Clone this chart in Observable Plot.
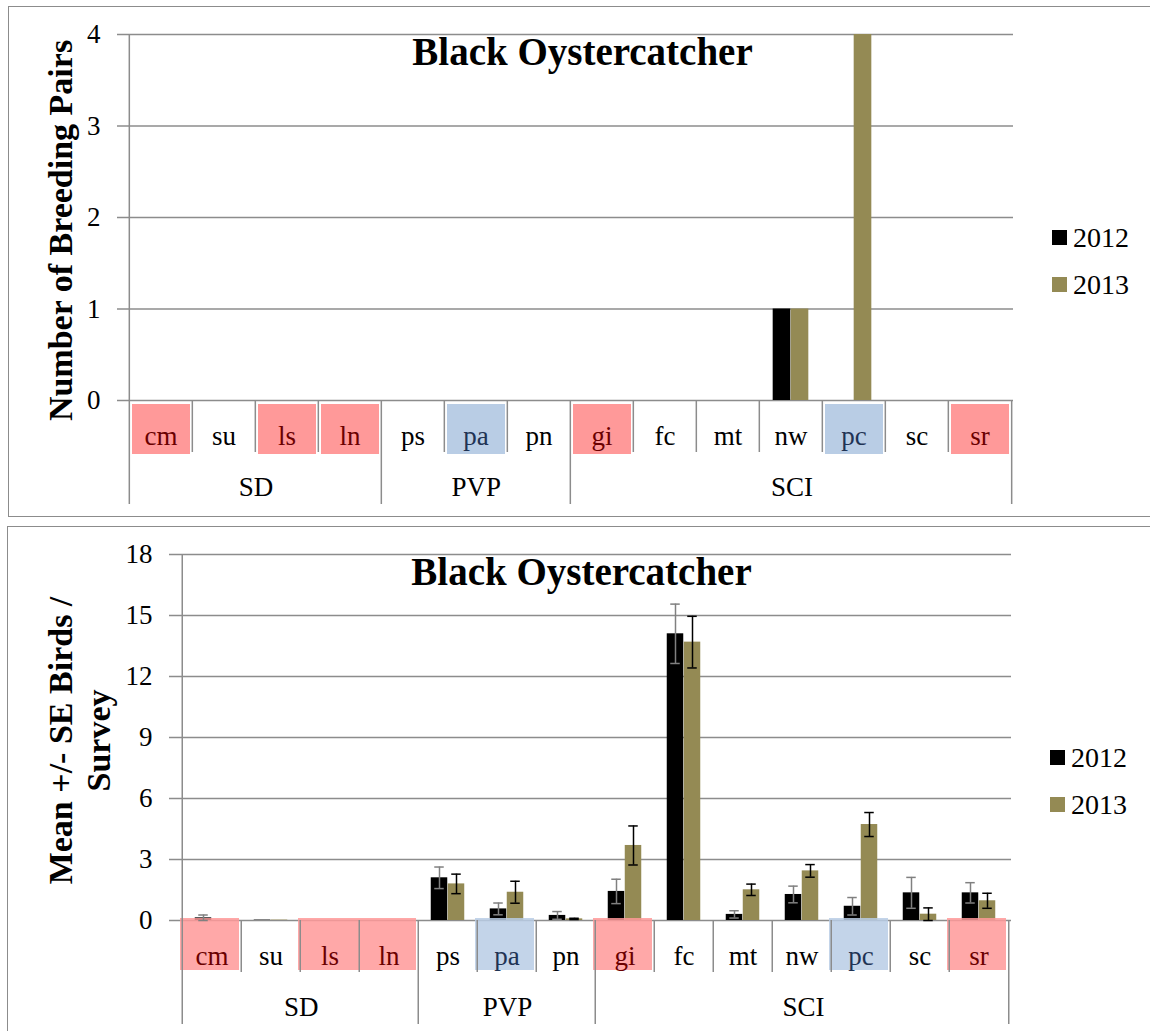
<!DOCTYPE html>
<html>
<head>
<meta charset="utf-8">
<script src="https://cdn.jsdelivr.net/npm/d3@7"></script>
<script src="https://cdn.jsdelivr.net/npm/@observablehq/plot@0.6"></script>
<style>
  body { margin: 0; background: #fff; font-family: "Liberation Serif", "Times New Roman", serif; }
  #page { position: relative; width: 1150px; height: 1031px; overflow: hidden; background: #fff; }
  .frame { position: absolute; border: 1.5px solid #8c8c8c; box-sizing: border-box; }
  .panel { position: absolute; left: 0; }
  .sw { position: absolute; width: 15px; height: 15px; }
  .lt { position: absolute; font-family: "Liberation Serif", "Times New Roman", serif; font-size: 28px; line-height: 30px; color: #000; }
</style>
</head>
<body>
<div id="page">
  <div class="frame" style="left:8px;top:6px;width:1150px;height:511px;"></div>
  <div class="frame" style="left:7px;top:526px;width:1150px;height:520px;"></div>
</div>
<script>
// ---------- data ----------
const sites = ["cm", "su", "ls", "ln", "ps", "pa", "pn", "gi", "fc", "mt", "nw", "pc", "sc", "sr"];
const siteRegion = ["SD", "SD", "SD", "SD", "PVP", "PVP", "PVP", "SCI", "SCI", "SCI", "SCI", "SCI", "SCI", "SCI"];
const regions = ["SD", "PVP", "SCI"];
const pinkSites = ["cm", "ls", "ln", "gi", "sr"];
const blueSites = ["pa", "pc"];
const years = ["2012", "2013"];

const pairs2012 = [0, 0, 0, 0, 0, 0, 0, 0, 0, 0, 1, 0, 0, 0];
const pairs2013 = [0, 0, 0, 0, 0, 0, 0, 0, 0, 0, 1, 4, 0, 0];

const mean2012 = [0.13, 0.02, 0, 0, 2.10, 0.57, 0.25, 1.43, 14.10, 0.30, 1.28, 0.70, 1.36, 1.36];
const se2012   = [0.14, 0, 0, 0, 0.53, 0.29, 0.19, 0.60, 1.46, 0.18, 0.41, 0.43, 0.76, 0.50];
const mean2013 = [0, 0.02, 0, 0, 1.80, 1.39, 0.08, 3.69, 13.69, 1.51, 2.44, 4.72, 0.31, 0.97];
const se2013   = [0, 0, 0, 0, 0.48, 0.54, 0.03, 0.96, 1.27, 0.28, 0.31, 0.59, 0.31, 0.37];

const ticksPairs = [0, 1, 2, 3, 4];
const ticksBirds = [0, 3, 6, 9, 12, 15, 18];

const title = "Black Oystercatcher";
const labelPairs = "Number of Breeding Pairs";
const labelBirds = "Mean +/- SE Birds /\nSurvey";

// ---------- styles ----------
const W = 1150;
const GRAY = "#8c8c8c";
const C2012 = "#000000";
const C2013 = "#948A54";
const PINK = "#FF9999";
const BLUE = "#B9CDE5";
const PINK_TEXT = "#6b0000";
const BLUE_TEXT = "#1f3354";
const FONT = "'Liberation Serif', 'Times New Roman', serif";

function makePanel(cfg) {
  const {top, height, mt, mb, ml, mr, yDomain, yTicks, v12, v13, se12, se13,
         barW, capW, yLabel, titleDx, titleDy, labelDx, labelDy, boxInset, boxOpacity, titleSize} = cfg;
  const fh = height - mt - mb;
  const bw = (W - ml - mr) / sites.length;
  const side = (bw - 2 * barW) / 2;

  const rows = (vals, ses) => sites.map((s, i) => ({site: s, v: vals[i], se: ses ? ses[i] : 0}));
  const r12 = rows(v12, se12), r13 = rows(v13, se13);
  const err12 = r12.filter(d => d.se > 0), err13 = r13.filter(d => d.se > 0);

  const groupStarts = regions.map(g => sites[siteRegion.indexOf(g)]);
  const catDividers = sites.filter(s => !groupStarts.includes(s));
  const boxes = sites.filter(s => pinkSites.includes(s) || blueSites.includes(s))
    .map(s => ({site: s, kind: pinkSites.includes(s) ? "pink" : "blue"}));
  const labelColor = s => pinkSites.includes(s) ? PINK_TEXT : blueSites.includes(s) ? BLUE_TEXT : "#000";

  const marks = [
    Plot.ruleY(yTicks, {y: d => d, stroke: GRAY, strokeWidth: 1.5, insetLeft: -9}),
    Plot.barY(r12, {x: "site", y: "v", fill: C2012, insetLeft: side, insetRight: side + barW}),
    Plot.barY(r13, {x: "site", y: "v", fill: C2013, insetLeft: side + barW, insetRight: side}),
    Plot.barY(boxes, {x: "site", y1: 0, y2: 0, fill: d => d.kind === "pink" ? PINK : BLUE,
      fillOpacity: boxOpacity, insetLeft: boxInset[0], insetRight: boxInset[1],
      insetTop: boxInset[2], insetBottom: boxInset[3]}),
    Plot.ruleX([sites[0]], {x: d => d, dx: -bw / 2, stroke: GRAY, strokeWidth: 1.5, insetBottom: -104}),
    Plot.ruleX([sites[sites.length - 1]], {x: d => d, dx: bw / 2, stroke: GRAY, strokeWidth: 1.5, insetTop: fh, insetBottom: -104}),
    Plot.ruleX(catDividers, {x: d => d, dx: -bw / 2, stroke: GRAY, strokeWidth: 1.5, insetTop: fh, insetBottom: -52}),
    Plot.ruleX(groupStarts.slice(1), {x: d => d, dx: -bw / 2, stroke: GRAY, strokeWidth: 1.5, insetTop: fh, insetBottom: -104}),
    Plot.text(sites, {x: d => d, text: d => d, frameAnchor: "bottom", dy: 36, fill: labelColor,
      fontSize: 27, lineAnchor: "middle", fontFamily: FONT}),
    Plot.text([title], {text: d => d, frameAnchor: "top", dx: titleDx, dy: titleDy, fontWeight: "bold",
      fontSize: titleSize, lineAnchor: "middle", textAnchor: "middle", fontFamily: FONT}),
    Plot.text([yLabel], {text: d => d, frameAnchor: "left", dx: labelDx, dy: labelDy, rotate: -90,
      fontWeight: "bold", fontSize: 34, lineHeight: 1.1, lineAnchor: "middle", textAnchor: "middle", fontFamily: FONT})
  ];

  if (se12) {
    const off = barW / 2;
    const ci = bw / 2 - off - capW / 2;
    marks.push(
      Plot.ruleX(err12, {x: "site", y1: d => Math.max(0, d.v - d.se), y2: d => d.v + d.se, dx: -off, stroke: "#808080", strokeWidth: 1.5}),
      Plot.tickY(err12, {x: "site", y: d => d.v + d.se, insetLeft: ci, insetRight: bw - ci - capW, stroke: "#808080", strokeWidth: 1.5}),
      Plot.tickY(err12, {x: "site", y: d => Math.max(0, d.v - d.se), insetLeft: ci, insetRight: bw - ci - capW, stroke: "#808080", strokeWidth: 1.5}),
      Plot.ruleX(err13, {x: "site", y1: d => Math.max(0, d.v - d.se), y2: d => d.v + d.se, dx: off, stroke: "#000", strokeWidth: 1.5}),
      Plot.tickY(err13, {x: "site", y: d => d.v + d.se, insetLeft: ci + barW, insetRight: bw - ci - capW - barW, stroke: "#000", strokeWidth: 1.5}),
      Plot.tickY(err13, {x: "site", y: d => Math.max(0, d.v - d.se), insetLeft: ci + barW, insetRight: bw - ci - capW - barW, stroke: "#000", strokeWidth: 1.5})
    );
  }

  regions.forEach(g => {
    const first = siteRegion.indexOf(g);
    const count = siteRegion.filter(r => r === g).length;
    marks.push(Plot.text([g], {x: () => sites[first], text: d => d, frameAnchor: "bottom",
      dx: (count - 1) * bw / 2, dy: 87, fontSize: 27, lineAnchor: "middle", fontFamily: FONT}));
  });

  const svg = Plot.plot({
    width: W, height,
    marginTop: mt, marginBottom: mb, marginLeft: ml, marginRight: mr,
    style: {fontFamily: FONT, fontSize: "27px", color: "#000", background: "transparent", overflow: "visible"},
    x: {type: "band", domain: sites, padding: 0, axis: null},
    y: {domain: yDomain, ticks: yTicks, tickSize: 0, tickPadding: 26, label: null, tickFormat: d => String(d)},
    marks
  });
  svg.querySelectorAll("text").forEach(t => { if (!t.getAttribute("font-family")) t.setAttribute("font-family", FONT); });
  const wrap = document.createElement("div");
  wrap.className = "panel";
  wrap.style.top = top + "px";
  wrap.appendChild(svg);
  document.getElementById("page").appendChild(wrap);
}

makePanel({
  top: 0, height: 516, mt: 34, mb: 116, ml: 126, mr: 137,
  yDomain: [0, 4], yTicks: ticksPairs, v12: pairs2012, v13: pairs2013,
  barW: 18, capW: 10, yLabel: labelPairs,
  titleDx: 12.5, titleDy: 18, titleSize: 39, labelDx: -66, labelDy: 13,
  boxInset: [3, 2, 4, -54], boxOpacity: 1
});

makePanel({
  top: 516, height: 515, mt: 38, mb: 111, ml: 178, mr: 139,
  yDomain: [0, 18], yTicks: ticksBirds, v12: mean2012, v13: mean2013, se12: se2012, se13: se2013,
  barW: 17, capW: 10, yLabel: labelBirds,
  titleDx: -13.5, titleDy: 18, titleSize: 39, labelDx: -99.5, labelDy: 3,
  boxInset: [-2, 2, -2, -50], boxOpacity: 0.85
});

const legendPos = [{x: 1052, y: 230}, {x: 1050, y: 750}];
const legendColors = [C2012, C2013];
const page = document.getElementById("page");
legendPos.forEach(p => {
  years.forEach((yr, i) => {
    const sw = document.createElement("div");
    sw.className = "sw";
    sw.style.left = p.x + "px";
    sw.style.top = (p.y + i * 47) + "px";
    sw.style.background = legendColors[i];
    page.appendChild(sw);
    const t = document.createElement("div");
    t.className = "lt";
    t.style.left = (p.x + 21) + "px";
    t.style.top = (p.y + i * 47 - 7) + "px";
    t.textContent = yr;
    page.appendChild(t);
  });
});
</script>
</body>
</html>
